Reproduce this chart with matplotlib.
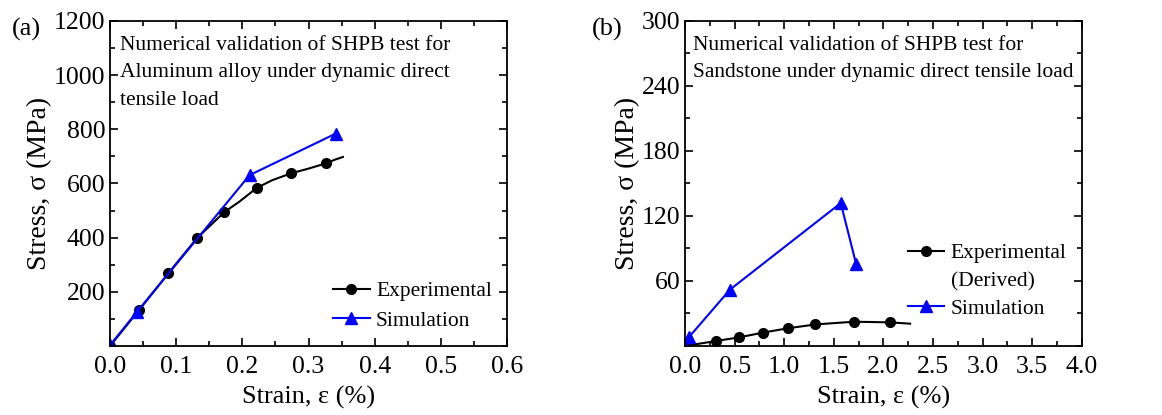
import numpy as np
import matplotlib
matplotlib.use("Agg")
import matplotlib.pyplot as plt
from matplotlib.lines import Line2D
from matplotlib.ticker import MultipleLocator

plt.rcParams['font.family'] = ['Liberation Serif', 'DejaVu Serif']
plt.rcParams['mathtext.fontset'] = 'stix'

# (a) aluminum alloy
al_exp_x = [0.0, 0.044, 0.088, 0.131, 0.173, 0.195, 0.222, 0.245, 0.273, 0.300, 0.326, 0.340, 0.352]
al_exp_y = [0, 133, 268, 397, 495, 532, 584, 612, 637, 655, 674, 688, 698]
al_exp_marks = [0, 1, 2, 3, 4, 6, 8, 10]
al_sim_x = [0.0, 0.041, 0.211, 0.341]
al_sim_y = [3, 127, 631, 784]

# (b) sandstone
ss_exp_x = [0.0, 0.313, 0.548, 0.783, 1.035, 1.314, 1.704, 2.067, 2.269]
ss_exp_y = [0.0, 4.6, 8.0, 12.3, 16.3, 19.9, 22.4, 21.8, 20.6]
ss_exp_marks = [0, 1, 2, 3, 4, 5, 6, 7]
ss_sim_x = [0.0, 0.044, 0.454, 1.570, 1.724]
ss_sim_y = [1.0, 8.6, 52.1, 131.9, 76.1]

fig = plt.figure(figsize=(11.62, 4.15), dpi=100)
ax1 = fig.add_axes([0.0947, 0.1663, 0.3416, 0.7831])
ax2 = fig.add_axes([0.5895, 0.1663, 0.3415, 0.7831])

FS = 18.5

def style(ax):
    for s in ax.spines.values():
        s.set_linewidth(1.3)
    ax.tick_params(which='both', direction='in', top=True, right=True, labelsize=FS, width=1.2)
    ax.tick_params(which='major', length=6)
    ax.tick_params(axis='x', which='major', pad=7)
    ax.tick_params(which='minor', length=3.5)
    ax.set_xlabel('Strain, ε (%)', fontsize=FS + 0.5, labelpad=6)
    ax.set_ylabel('Stress, σ (MPa)', fontsize=FS + 1.5, labelpad=1)

# panel (a)
ax1.plot(al_exp_x, al_exp_y, '-', color='black', lw=1.5, marker='o', ms=7,
         markevery=al_exp_marks, label='Experimental')
ax1.plot(al_sim_x, al_sim_y, '-', color='blue', lw=1.5, marker='^', ms=8,
         label='Simulation')
ax1.set_xlim(0, 0.6)
ax1.set_ylim(0, 1200)
ax1.xaxis.set_major_locator(MultipleLocator(0.1))
ax1.xaxis.set_minor_locator(MultipleLocator(0.05))
ax1.yaxis.set_major_locator(MultipleLocator(200))
ax1.yaxis.set_minor_locator(MultipleLocator(100))
ax1.set_xticks(np.arange(0, 0.61, 0.1))
ax1.set_xticklabels(['0.0', '0.1', '0.2', '0.3', '0.4', '0.5', '0.6'])
ax1.set_yticks([200, 400, 600, 800, 1000, 1200])
style(ax1)
ax1.text(0.025, 0.955, 'Numerical validation of SHPB test for\nAluminum alloy under dynamic direct\ntensile load',
         transform=ax1.transAxes, fontsize=15.5, va='top', ha='left', linespacing=1.62)
ax1.legend(loc='lower right', bbox_to_anchor=(1.0, 0.0), frameon=False, fontsize=15.5,
           handlelength=1.7, handletextpad=0.3, labelspacing=0.45, borderaxespad=0.3)
fig.text(0.010, 0.93, '(a)', fontsize=19, ha='left', va='center')

# panel (b)
h_exp, = ax2.plot(ss_exp_x, ss_exp_y, '-', color='black', lw=1.5, marker='o', ms=7,
                  markevery=ss_exp_marks)
h_sim, = ax2.plot(ss_sim_x, ss_sim_y, '-', color='blue', lw=1.5, marker='^', ms=8)
ax2.set_xlim(0, 4.0)
ax2.set_ylim(0, 300)
ax2.xaxis.set_major_locator(MultipleLocator(0.5))
ax2.xaxis.set_minor_locator(MultipleLocator(0.25))
ax2.yaxis.set_minor_locator(MultipleLocator(30))
ax2.set_xticks(np.arange(0, 4.01, 0.5))
ax2.set_xticklabels(['%.1f' % v for v in np.arange(0, 4.01, 0.5)])
ax2.set_yticks([60, 120, 180, 240, 300])
style(ax2)
ax2.text(0.02, 0.955, 'Numerical validation of SHPB test for\nSandstone under dynamic direct tensile load',
         transform=ax2.transAxes, fontsize=15.5, va='top', ha='left', linespacing=1.62)
blank = Line2D([], [], color='none')
ax2.legend([h_exp, blank, h_sim], ['Experimental', '(Derived)', 'Simulation'],
           loc='center right', bbox_to_anchor=(1.0, 0.2), frameon=False, fontsize=15.5,
           handlelength=1.7, handletextpad=0.3, labelspacing=0.36, borderaxespad=0.3)
fig.text(0.509, 0.93, '(b)', fontsize=19, ha='left', va='center')

fig.savefig('out.png', dpi=100)
